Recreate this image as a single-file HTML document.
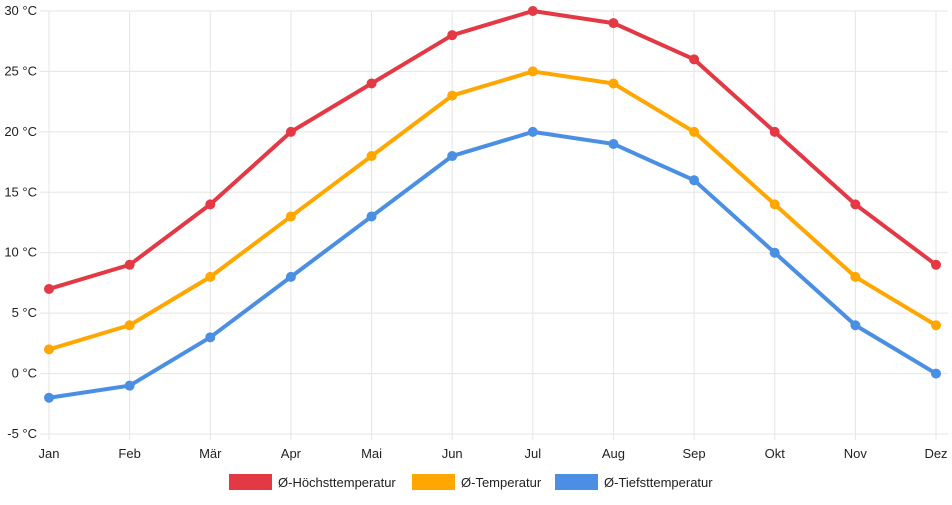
<!DOCTYPE html>
<html><head><meta charset="utf-8"><style>
body{margin:0;background:#fff;font-family:"Liberation Sans",sans-serif}
svg text{font-family:"Liberation Sans",sans-serif;font-size:13px;fill:#222}
</style></head><body>
<svg id="c" width="952" height="500"></svg>
<script>
const months=["Jan","Feb","Mär","Apr","Mai","Jun","Jul","Aug","Sep","Okt","Nov","Dez"];
const maxTemp=[7,9,14,20,24,28,30,29,26,20,14,9];
const avgTemp=[2,4,8,13,18,23,25,24,20,14,8,4];
const minTemp=[-2,-1,3,8,13,18,20,19,16,10,4,0];
const yTicks=[-5,0,5,10,15,20,25,30];
const seriesNames=["Ø-Höchsttemperatur","Ø-Temperatur","Ø-Tiefsttemperatur"];
const colors=["#e33945","#ffa600","#4a8fe3"];
const NS="http://www.w3.org/2000/svg";
const svg=document.getElementById("c");
const x0=49,x1=936,yTop=11,yBot=434,vmin=-5,vmax=30;
const X=i=>x0+i*(x1-x0)/(months.length-1);
const Y=v=>yBot-(v-vmin)*(yBot-yTop)/(vmax-vmin);
function el(t,a){const e=document.createElementNS(NS,t);for(const k in a)e.setAttribute(k,a[k]);svg.appendChild(e);return e;}
yTicks.forEach(v=>{
 const l=el("line",{x1:40,x2:948,y1:Y(v),y2:Y(v),stroke:"#e5e5e5"});
 
 
 const t=el("text",{x:37,y:Y(v)+4,"text-anchor":"end"});t.textContent=v+" °C";
 
 
});
months.forEach((m,i)=>{
 const l=el("line",{x1:X(i),x2:X(i),y1:yTop,y2:440,stroke:"#e5e5e5"});
 
 
 const t=el("text",{x:X(i),y:458,"text-anchor":"middle"});t.textContent=m;
 
 
});
[maxTemp,avgTemp,minTemp].forEach((s,k)=>{
 const p=el("polyline",{points:s.map((v,i)=>X(i)+","+Y(v)).join(" "),fill:"none",stroke:colors[k],"stroke-width":4,"stroke-linejoin":"round"});
 
 
 s.forEach((v,i)=>{
  const c=el("circle",{cx:X(i),cy:Y(v),r:5,fill:colors[k]});
  
  
 });
});
const lx=[229,412,555];
seriesNames.forEach((n,k)=>{
 const r=el("rect",{x:lx[k],y:474,width:43,height:16,fill:colors[k]});
 
 
 const t=el("text",{x:lx[k]+49,y:487});t.textContent=n;
 
 
});
</script>
</body></html>
